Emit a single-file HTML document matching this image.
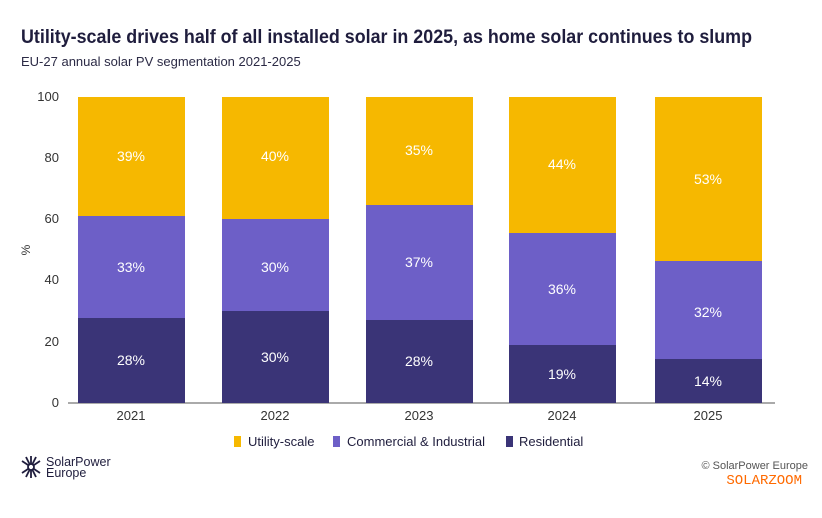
<!DOCTYPE html>
<html><head><meta charset="utf-8"><style>
body{margin:0;background:#fff;width:822px;height:513px;overflow:hidden;font-family:"Liberation Sans",sans-serif;}
</style></head><body>
<svg width="822" height="513" xmlns="http://www.w3.org/2000/svg" font-family="Liberation Sans, sans-serif">
<text x="21" y="43" font-size="19" font-weight="bold" fill="#1f1d3d" textLength="731" lengthAdjust="spacingAndGlyphs">Utility-scale drives half of all installed solar in 2025, as home solar continues to slump</text>
<text x="21" y="66" font-size="13" fill="#2b2a45">EU-27 annual solar PV segmentation 2021-2025</text>
<g font-size="13" fill="#333" text-anchor="end">
<text x="59" y="101">100</text><text x="59" y="162">80</text><text x="59" y="223">60</text><text x="59" y="284">40</text><text x="59" y="346">20</text><text x="59" y="407">0</text>
</g>
<text x="30" y="250" font-size="12" fill="#333" transform="rotate(-90 30 250)" text-anchor="middle">%</text>
<line x1="68" y1="403" x2="775" y2="403" stroke="#555" stroke-width="1"/>
<g>
<rect x="78" y="97" width="107" height="119" fill="#F6B800"/><rect x="78" y="216" width="107" height="102" fill="#6D5FC7"/><rect x="78" y="318" width="107" height="85" fill="#3A3477"/>
<rect x="222" y="97" width="107" height="122" fill="#F6B800"/><rect x="222" y="219" width="107" height="92" fill="#6D5FC7"/><rect x="222" y="311" width="107" height="92" fill="#3A3477"/>
<rect x="366" y="97" width="107" height="108" fill="#F6B800"/><rect x="366" y="205" width="107" height="115" fill="#6D5FC7"/><rect x="366" y="320" width="107" height="83" fill="#3A3477"/>
<rect x="509" y="97" width="107" height="136" fill="#F6B800"/><rect x="509" y="233" width="107" height="112" fill="#6D5FC7"/><rect x="509" y="345" width="107" height="58" fill="#3A3477"/>
<rect x="655" y="97" width="107" height="164" fill="#F6B800"/><rect x="655" y="261" width="107" height="98" fill="#6D5FC7"/><rect x="655" y="359" width="107" height="44" fill="#3A3477"/>
</g>
<g font-size="14" fill="#fff" text-anchor="middle">
<text x="131" y="161">39%</text><text x="131" y="272">33%</text><text x="131" y="365">28%</text>
<text x="275" y="161">40%</text><text x="275" y="272">30%</text><text x="275" y="362">30%</text>
<text x="419" y="155">35%</text><text x="419" y="267">37%</text><text x="419" y="366">28%</text>
<text x="562" y="169">44%</text><text x="562" y="294">36%</text><text x="562" y="379">19%</text>
<text x="708" y="184">53%</text><text x="708" y="317">32%</text><text x="708" y="386">14%</text>
</g>
<g font-size="13" fill="#333" text-anchor="middle">
<text x="131" y="420">2021</text><text x="275" y="420">2022</text><text x="419" y="420">2023</text><text x="562" y="420">2024</text><text x="708" y="420">2025</text>
</g>
<g font-size="13" fill="#1f1d3d">
<rect x="234" y="436" width="7" height="11" fill="#F6B800"/><text x="248" y="446">Utility-scale</text>
<rect x="333" y="436" width="7" height="11" fill="#6D5FC7"/><text x="347" y="446">Commercial &amp; Industrial</text>
<rect x="506" y="436" width="7" height="11" fill="#3A3477"/><text x="519" y="446">Residential</text>
</g>
<g transform="translate(31,467)" stroke="#1f1d3d" stroke-width="1.8">
<line x1="0" y1="0" x2="0" y2="-11"/><line x1="0" y1="0" x2="0" y2="11"/><line x1="0" y1="0" x2="9" y2="-6"/><line x1="0" y1="0" x2="9" y2="6"/><line x1="0" y1="0" x2="-9" y2="-6"/><line x1="0" y1="0" x2="-9" y2="6"/><line x1="0" y1="0" x2="5" y2="-10"/><line x1="0" y1="0" x2="-5" y2="10"/><line x1="0" y1="0" x2="-5" y2="-10"/><line x1="0" y1="0" x2="5" y2="10"/>
<circle cx="0" cy="0" r="3" fill="#fff"/>
</g>
<text x="46" y="466" font-size="12.5" fill="#1f1d3d">SolarPower</text>
<text x="46" y="477" font-size="12.5" fill="#1f1d3d">Europe</text>
<text x="808" y="469" font-size="11" fill="#555" text-anchor="end">© SolarPower Europe</text>
<text x="802" y="484" font-size="14" fill="#ff6a00" text-anchor="end" font-family="Liberation Mono, monospace">SOLARZOOM</text>
</svg>
</body></html>
